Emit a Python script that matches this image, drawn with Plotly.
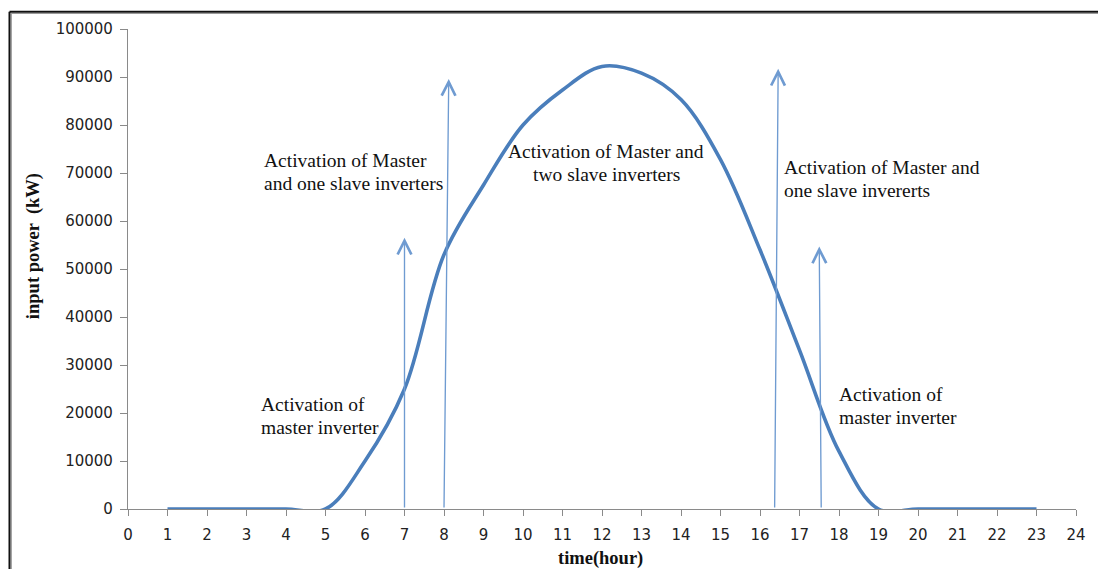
import plotly.graph_objects as go

# Hourly input power of the PV plant
hours = list(range(1, 24))
input_power_kw = [0, 0, 0, 0, 0, 10000, 25000, 53000, 67500, 80000, 87300, 92200,
                  90800, 85300, 72800, 54000, 33100, 12000, 0, 0, 0, 0, 0]

# Inverter switching instants (vertical arrows)
arrow_base_hours = [7.0, 8.0, 16.37, 17.55]
arrow_tip_hours = [7.0, 8.12, 16.46, 17.5]
arrow_tip_power = [56500, 89600, 91700, 54700]

x_ticks = list(range(0, 25))
y_ticks = list(range(0, 100001, 10000))

W, H = 1098, 569
L, R, T, B = 127.5, 1083.5, 29.3, 509.0


def hx(px):
    return (px - L) / (R - L) * 24


def py(p):
    return (B - p) / (B - T) * 100000


fig = go.Figure()

fig.add_trace(go.Scatter(
    x=hours, y=input_power_kw, mode="lines",
    line=dict(color="#4a7ebb", width=3.6, shape="spline", smoothing=1.0),
    hoverinfo="skip", showlegend=False,
))

annotations = []
for xb, xt, yt in zip(arrow_base_hours, arrow_tip_hours, arrow_tip_power):
    annotations.append(dict(
        x=xt, y=yt, ax=xb, ay=0, xref="x", yref="y", axref="x", ayref="y",
        text="", showarrow=True, arrowhead=5, arrowsize=2.0, arrowwidth=1.35,
        arrowcolor="#6f9bd1", standoff=0, startstandoff=0,
    ))

serif = "Liberation Serif, Times New Roman, serif"
label_lines = [
    ("Activation of", 260, 405, "left"),
    ("master inverter", 260, 428, "left"),
    ("Activation of Master", 263, 161, "left"),
    ("and one slave inverters", 263, 184, "left"),
    ("Activation of Master and", 610, 152, "center"),
    ("two slave inverters", 610, 175, "center"),
    ("Activation of Master and", 787, 168, "left"),
    ("one slave invererts", 787, 191, "left"),
    ("Activation of", 842, 395, "left"),
    ("master inverter", 842, 418, "left"),
]
for txt, xp, yp, anc in label_lines:
    annotations.append(dict(
        x=hx(xp), y=py(yp), xref="x", yref="y", text=txt, showarrow=False,
        xanchor=anc, yanchor="middle",
        font=dict(family=serif, size=19.5, color="#111"),
    ))

# Axis titles
annotations.append(dict(
    x=(604 - L) / (R - L), y=(B - 558) / (B - T), xref="paper", yref="paper",
    text="<b>time(hour)</b>", showarrow=False, xanchor="center", yanchor="middle",
    font=dict(family=serif, size=18.5, color="#111"),
))
annotations.append(dict(
    x=(33 - L) / (R - L), y=(B - 246) / (B - T), xref="paper", yref="paper",
    text="<b>input power  (kW)</b>", showarrow=False, textangle=-90,
    xanchor="center", yanchor="middle",
    font=dict(family=serif, size=18.5, color="#111"),
))

# Outer frame (top and left edges with a soft shadow line)
fl = (8 - L) / (R - L)
ft = (B - 12) / (B - T)
shapes = [
    dict(type="line", xref="paper", yref="paper", x0=fl + 1.6 / (R - L), x1=1.2,
         y0=ft - 1.8 / (B - T), y1=ft - 1.8 / (B - T), line=dict(color="#9a9a9a", width=1.2)),
    dict(type="line", xref="paper", yref="paper", x0=fl + 1.8 / (R - L), x1=fl + 1.8 / (R - L),
         y0=-0.2, y1=ft - 1.6 / (B - T), line=dict(color="#9a9a9a", width=1.2)),
    dict(type="line", xref="paper", yref="paper", x0=fl, x1=1.2, y0=ft, y1=ft,
         line=dict(color="#111", width=2)),
    dict(type="line", xref="paper", yref="paper", x0=fl, x1=fl, y0=-0.2, y1=ft,
         line=dict(color="#111", width=2)),
]

tick_font = dict(family="DejaVu Sans, Verdana, sans-serif", size=15, color="#222")

fig.update_layout(
    width=W, height=H,
    margin=dict(l=L, r=W - R, t=T, b=H - B, pad=0),
    paper_bgcolor="white", plot_bgcolor="white",
    xaxis=dict(range=[0, 24], tickvals=x_ticks, ticktext=[str(v) for v in x_ticks],
               showgrid=False, zeroline=False, showline=True, linecolor="#8a8a8a",
               linewidth=1.2, ticks="outside", ticklen=6, tickcolor="#8a8a8a",
               tickwidth=1.2, tickfont=tick_font, ticklabelstandoff=6, fixedrange=True),
    yaxis=dict(range=[0, 100000], tickvals=y_ticks, ticktext=[str(v) for v in y_ticks],
               showgrid=False, zeroline=False, showline=True, linecolor="#8a8a8a",
               linewidth=1.2, ticks="outside", ticklen=7, tickcolor="#8a8a8a",
               tickwidth=1.2, tickfont=tick_font, ticklabelstandoff=4, fixedrange=True),
    annotations=annotations,
    shapes=shapes,
    showlegend=False,
)

fig.write_html("out.html", config={"displayModeBar": False})
